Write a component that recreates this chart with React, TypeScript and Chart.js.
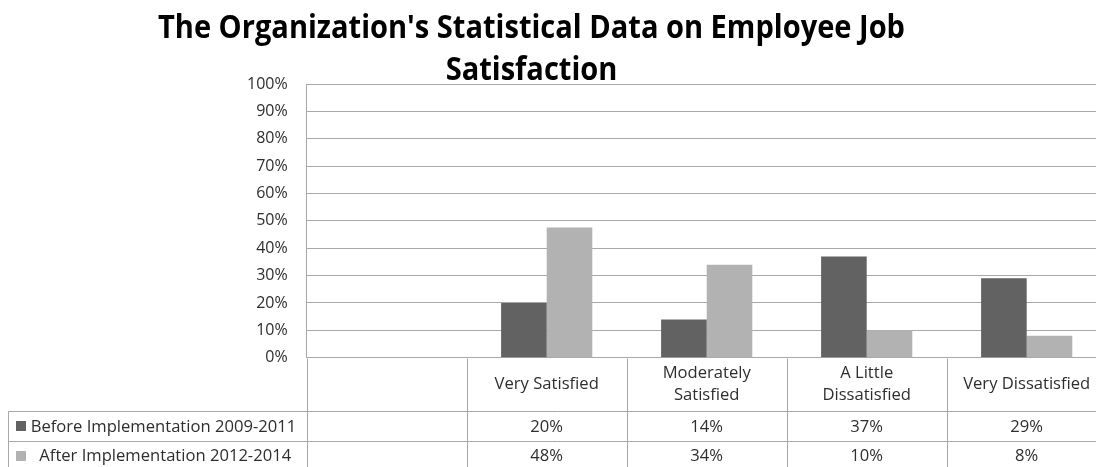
import React, { useEffect, useRef } from "react";
import { Chart, registerables } from "chart.js";

Chart.register(...registerables);

const titleLines = ["The Organization's Statistical Data on Employee Job", "Satisfaction"];
const categories = ["", "Very Satisfied", "Moderately Satisfied", "A Little Dissatisfied", "Very Dissatisfied"];
const categoryLines = [[], ["Very Satisfied"], ["Moderately", "Satisfied"], ["A Little", "Dissatisfied"], ["Very Dissatisfied"]];
const seriesNames = ["Before Implementation 2009-2011", "After Implementation 2012-2014"];
const beforeValues = [null, 20, 14, 37, 29];
const afterValues = [null, 47.6, 34, 10, 8];
const yTickStep = 10;
const yMax = 100;

const COLORS = ["#626262", "#b2b2b2"];
const GRID = "#a8a8a8";
const TEXT = "#2e2e2e";
const FONT = "'Open Sans', 'Noto Sans', sans-serif";

const W = 1120;
const H = 467;

const titlePlugin = {
  id: "titleDraw",
  afterDraw(chart: any) {
    const ctx = chart.ctx as CanvasRenderingContext2D;
    ctx.save();
    ctx.fillStyle = "#000";
    ctx.textAlign = "center";
    ctx.textBaseline = "alphabetic";
    ctx.font = `bold 32px ${FONT}`;
    const m = ctx.measureText(titleLines[0]).width;
    const sx = 747 / m;
    const cx = 531.5;
    ctx.translate(cx, 0);
    ctx.scale(sx, 1);
    ctx.fillText(titleLines[0], 0, 37.5);
    ctx.fillText(titleLines[1], 0, 79.5);
    ctx.restore();
  },
};

const tablePlugin = {
  id: "dataTable",
  afterDraw(chart: any) {
    const ctx = chart.ctx as CanvasRenderingContext2D;
    const area = chart.chartArea;
    const xs = chart.scales.x;
    const n = categories.length;
    const w = (area.right - area.left) / n;
    const top = area.bottom;
    const hb = top + 53;
    const r1 = hb + 30.5;
    const r2 = r1 + 30;
    const leftX = 8;
    const p = (v: number) => Math.round(v) + 0.5;

    ctx.save();
    ctx.strokeStyle = GRID;
    ctx.lineWidth = 1;
    ctx.beginPath();
    for (let i = 0; i <= n; i++) {
      const x = p(area.left + i * w);
      ctx.moveTo(x, p(top));
      ctx.lineTo(x, r2);
    }
    ctx.moveTo(p(leftX), p(hb));
    ctx.lineTo(p(leftX), r2);
    [hb, r1, r2].forEach((y) => {
      ctx.moveTo(p(leftX), p(y));
      ctx.lineTo(area.right, p(y));
    });
    ctx.stroke();

    ctx.fillStyle = TEXT;
    ctx.font = `16.6px ${FONT}`;
    ctx.textAlign = "center";
    ctx.textBaseline = "middle";
    const lh = 22;
    for (let i = 0; i < n; i++) {
      const cx = xs.getPixelForValue(i);
      const lines = categoryLines[i];
      const cy = (top + hb) / 2;
      lines.forEach((t, j) => {
        ctx.fillText(t, cx, cy + (j - (lines.length - 1) / 2) * lh);
      });
      const b = beforeValues[i];
      const a = afterValues[i];
      if (b !== null) ctx.fillText(`${Math.round(b)}%`, cx, (hb + r1) / 2 + 1);
      if (a !== null) ctx.fillText(`${Math.round(a)}%`, cx, (r1 + r2) / 2);
    }

    ctx.textAlign = "left";
    const legendX = [30.7, 39.3];
    const rowCenters = [(hb + r1) / 2, (r1 + r2) / 2];
    seriesNames.forEach((name, k) => {
      ctx.fillStyle = COLORS[k];
      ctx.fillRect(16, Math.round(rowCenters[k] - 5), 10, 10);
      ctx.fillStyle = TEXT;
      ctx.fillText(name, legendX[k], rowCenters[k] + (k === 0 ? 1 : 0));
    });
    ctx.restore();
  },
};

export default function App() {
  const ref = useRef<HTMLCanvasElement | null>(null);

  useEffect(() => {
    if (!ref.current) return;
    const chart = new Chart(ref.current, {
      type: "bar",
      data: {
        labels: categories,
        datasets: [
          {
            label: seriesNames[0],
            data: beforeValues,
            backgroundColor: COLORS[0],
            categoryPercentage: 0.57,
            barPercentage: 1,
          },
          {
            label: seriesNames[1],
            data: afterValues,
            backgroundColor: COLORS[1],
            categoryPercentage: 0.57,
            barPercentage: 1,
          },
        ],
      },
      options: {
        animation: false,
        responsive: false,
        devicePixelRatio: 1,
        layout: {
          padding: { left: 0, top: 84, right: W - 1106.7, bottom: H - 357.7 },
        },
        plugins: {
          legend: { display: false },
          title: { display: false },
          tooltip: { enabled: false },
        },
        scales: {
          x: {
            type: "category",
            display: false,
            offset: true,
          },
          y: {
            min: 0,
            max: yMax,
            ticks: {
              stepSize: yTickStep,
              callback: (v: any) => `${v}%`,
              font: { family: FONT, size: 16 },
              color: TEXT,
              padding: 19,
            },
            grid: { color: GRID, drawTicks: false, lineWidth: 1 },
            border: { display: true, color: GRID },
            afterFit: (s: any) => {
              s.width = 306.7;
            },
          },
        },
      },
      plugins: [titlePlugin, tablePlugin],
    } as any);
    return () => chart.destroy();
  }, []);

  return (
    <div style={{ position: "absolute", left: 0, top: 0, width: 1096, height: 467, overflow: "hidden", background: "#fff" }}>
      <canvas ref={ref} width={W} height={H} style={{ display: "block" }} />
    </div>
  );
}
